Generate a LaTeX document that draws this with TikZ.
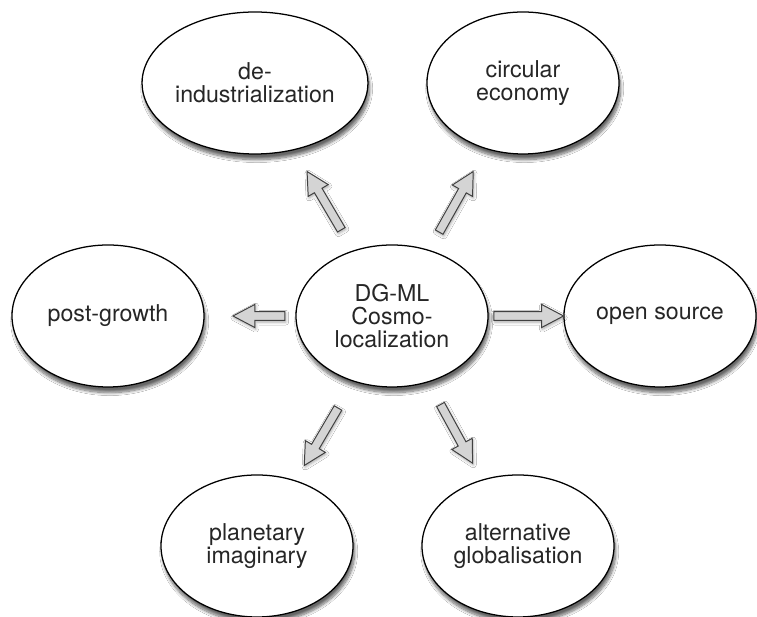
\documentclass[tikz,border=0pt]{standalone}
\usepackage{fontspec}
\setmainfont{TeX Gyre Heros}
\usetikzlibrary{shapes.geometric,calc,shadows.blur}

\tikzset{
  bubble/.style={ellipse, draw, line width=0.9pt, fill=white, inner sep=0pt,
    minimum width=4.8cm, minimum height=3.55cm, align=center,
    font=\fontsize{16.5}{16.5}\selectfont, text=black!85,
    blur shadow={shadow xshift=1.2pt, shadow yshift=-4pt, shadow opacity=60, shadow blur steps=10}},
  % fat arrow between two node centres, from fraction #1 to fraction #2
  blockarrow/.style 2 args={draw=black!75, fill=black!17, line width=0.7pt, line join=miter,
    blur shadow={shadow xshift=0.6pt, shadow yshift=-1.2pt, shadow opacity=35, shadow blur steps=4},
    to path={let \p1=($(\tikztostart)!#1!(\tikztotarget)$),
                 \p2=($(\tikztostart)!#2!(\tikztotarget)$),
                 \p3=($(\p2)!0.55cm!(\p1)$) in
      ($(\p1)!0.11cm!90:(\p2)$) -- ($(\p3)!0.11cm!-90:(\p1)$) -- ($(\p3)!0.29cm!-90:(\p1)$)
      -- (\p2) -- ($(\p3)!0.29cm!90:(\p1)$) -- ($(\p3)!0.11cm!90:(\p1)$)
      -- ($(\p1)!0.11cm!-90:(\p2)$) -- cycle}}
}

\begin{document}
\begin{tikzpicture}
\useasboundingbox[fill=white] (0,0) rectangle (18.925,15.425);
\node[bubble] (core)  at (9.8,7.525)    {DG-ML\\Cosmo-\\localization};
\node[bubble] (deind) at (6.375,13.35)  {de-\\industrialization};
\node[bubble] (circ)  at (13.075,13.35) {circular\\economy};
\node[bubble] (post)  at (2.7,7.525)    {post-growth};
\node[bubble] (open)  at (16.5,7.525)   {open source};
\node[bubble] (plan)  at (6.425,1.775)  {planetary\\imaginary};
\node[bubble] (alt)   at (12.95,1.775)  {alternative\\globalisation};
\draw[blockarrow={0.37}{0.62}] (core) to (deind);
\draw[blockarrow={0.36}{0.62}] (core) to (circ);
\draw[blockarrow={0.377}{0.56}] (core) to (post);
\draw[blockarrow={0.38}{0.64}] (core) to (open);
\draw[blockarrow={0.40}{0.65}] (core) to (plan);
\draw[blockarrow={0.385}{0.64}] (core) to (alt);
\end{tikzpicture}
\end{document}
